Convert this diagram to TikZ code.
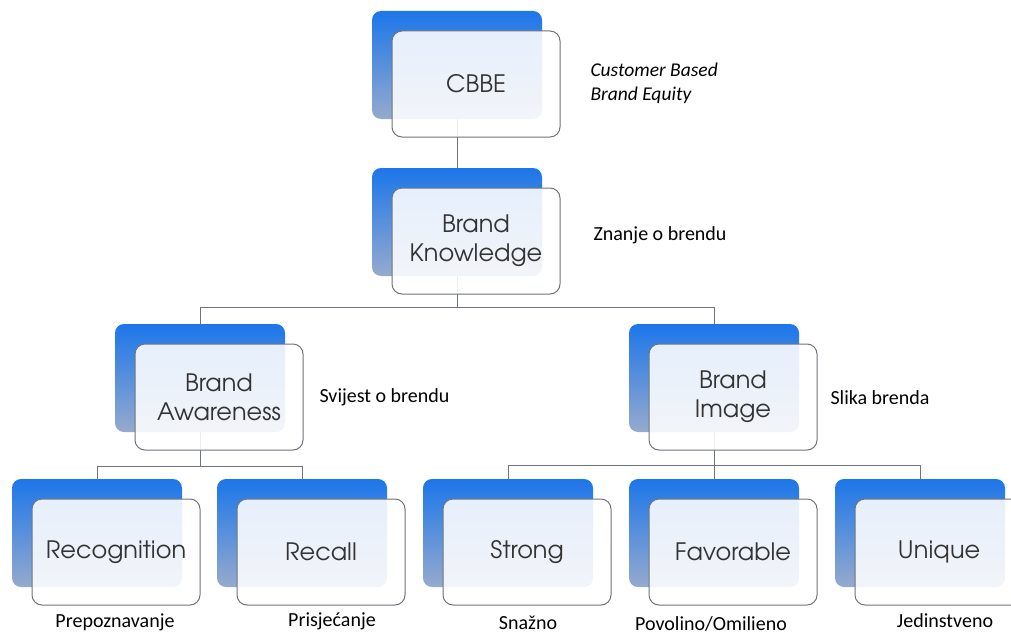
\documentclass[tikz,border=0pt]{standalone}
\usepackage{fontspec}
\setmainfont{Carlito}
\newfontfamily\boxfont{TeX Gyre Adventor}
\definecolor{backtop}{RGB}{28,118,234}
\definecolor{backbot}{RGB}{150,170,205}
\definecolor{edgegray}{RGB}{110,116,124}
\begin{document}
\begin{tikzpicture}[x=1pt,y=-1pt,
  back/.style={rectangle, rounded corners=9pt, minimum width=170pt, minimum height=108pt, inner sep=0pt, top color=backtop, middle color=backtop, bottom color=backbot},
  front/.style={rectangle, rounded corners=10pt, draw=edgegray, line width=1pt, fill=white, fill opacity=0.88, text opacity=1, minimum width=168pt, minimum height=106pt, inner sep=0pt, align=center, text=black!80, font=\boxfont\fontsize{24}{29}\selectfont},
  conn/.style={draw=edgegray, line width=1pt},
  note/.style={font=\fontsize{20}{24}\selectfont}]
\path[use as bounding box] (0,0) rectangle (1011,634);
\clip (0,0) rectangle (1011,634);
% blue back plates
\node[back] (cbbeb) at (457,65) {};
\node[back] (knowb) at (457,222) {};
\node[back] (awareb) at (200,378) {};
\node[back] (imageb) at (714,378) {};
\node[back] (recogb) at (97,533) {};
\node[back] (recallb) at (302,533) {};
\node[back] (strongb) at (508,533) {};
\node[back] (favb) at (714,533) {};
\node[back] (uniqueb) at (920,533) {};
% connectors
\path[conn] (cbbeb.south) -- (knowb.north);
\path[conn] (knowb.south) -- ++(0,31) -| (awareb.north);
\path[conn] (knowb.south) -- ++(0,31) -| (imageb.north);
\path[conn] (awareb.south) -- ++(0,34) -| (recogb.north);
\path[conn] (awareb.south) -- ++(0,34) -| (recallb.north);
\path[conn] (imageb.south) -- ++(0,33) -| (strongb.north);
\path[conn] (imageb.south) -- ++(0,33) -| (favb.north);
\path[conn] (imageb.south) -- ++(0,33) -| (uniqueb.north);
% front cards
\node[front] (cbbe) at ([shift={(19,19)}]cbbeb) {CBBE};
\node[front] (know) at ([shift={(19,19)}]knowb) {Brand\\Knowledge};
\node[front] (aware) at ([shift={(19,19)}]awareb) {Brand\\Awareness};
\node[front] (image) at ([shift={(19,19)}]imageb) {Brand\\Image};
\node[front] (recog) at ([shift={(19,19)}]recogb) {Recognition};
\node[front] (recall) at ([shift={(19,19)}]recallb) {Recall};
\node[front] (strong) at ([shift={(19,19)}]strongb) {Strong};
\node[front] (fav) at ([shift={(19,19)}]favb) {Favorable};
\node[front] (unique) at ([shift={(19,19)}]uniqueb) {Unique};
% translations
\node[anchor=west, align=left, font=\fontsize{19.5}{24}\selectfont\itshape] (cbbetxt) at (587,83) {Customer Based\\Brand Equity};
\node[note, anchor=west] (knowtxt) at (590,235) {Znanje o brendu};
\node[note, anchor=west] (awaretxt) at (316,397) {Svijest o brendu};
\node[note, anchor=west] (imagetxt) at (827,398) {Slika brenda};
\node[note] (recogtxt) at (115,622) {Prepoznavanje};
\node[note] (recalltxt) at (332,621) {Prisjećanje};
\node[note] (strongtxt) at (528,623) {Snažno};
\node[note] (favtxt) at (711,624) {Povolino/Omilieno};
\node[note] (uniquetxt) at (945,621) {Jedinstveno};
\end{tikzpicture}
\end{document}
